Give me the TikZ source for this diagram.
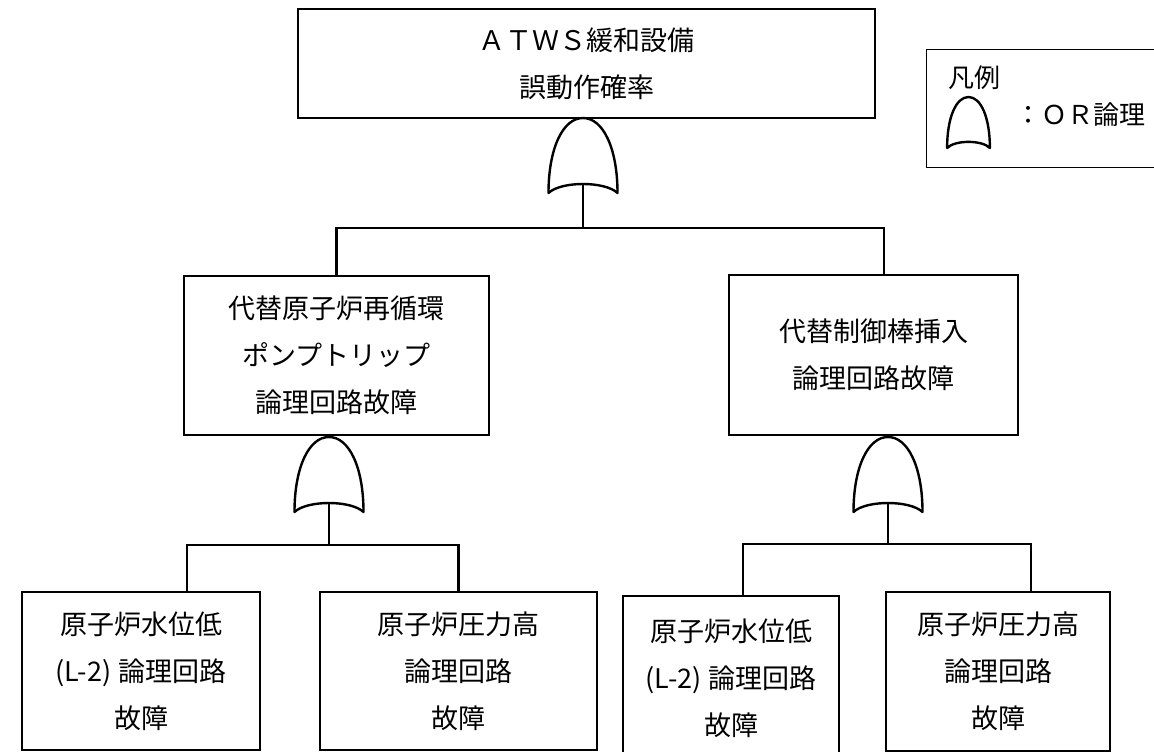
\documentclass[tikz,border=0pt]{standalone}
\usepackage{fontspec}
\setmainfont{Noto Sans CJK JP}
\begin{document}
\begin{tikzpicture}[x=1pt,y=-1pt,
  box/.style={draw, line width=1.2pt, inner sep=0pt, align=center, font=\fontsize{27}{47}\selectfont},
  conn/.style={line width=2.2pt},
  gateline/.style={line width=2.4pt, line join=round},
  orgate/.pic={\draw[gateline] (-34.5,75) .. controls (-34.5,30) and (-20,0) .. (0,0) .. controls (20,0) and (34.5,30) .. (34.5,75) .. controls (22,63) and (-22,63) .. cycle; \coordinate (-out) at (0,66);}]
\useasboundingbox (0,0) rectangle (1154,752);
\clip (0,0) rectangle (1154,752);
% boxes
\node[box, minimum width=577, minimum height=109] (top) at (586.5,63.5) {ＡＴＷＳ緩和設備\\誤動作確率};
\node[box, minimum width=305, minimum height=159] (ml) at (336.5,355.5) {代替原子炉再循環\\ポンプトリップ\\論理回路故障};
\node[box, minimum width=289, minimum height=160] (mr) at (873.5,355) {代替制御棒挿入\\論理回路故障};
\node[box, minimum width=238, minimum height=158] (ll) at (141,671) {原子炉水位低\\(L-2)\hspace{0.25em}論理回路\\故障};
\node[box, minimum width=277, minimum height=158] (lr) at (458.5,671) {原子炉圧力高\\論理回路\\故障};
\node[box, minimum width=216, minimum height=164] (rl) at (731,678) {原子炉水位低\\(L-2)\hspace{0.25em}論理回路\\故障};
\node[box, minimum width=224, minimum height=159] (rr) at (998,671.5) {原子炉圧力高\\論理回路\\故障};
% gates
\pic (ga) at (583,118) {orgate};
\pic (gb) at (329,437) {orgate};
\pic (gc) at (888,437) {orgate};
% connectors
\coordinate (h1) at (884,228);
\draw[conn] (ml.north) |- (h1) -- (h1 |- mr.north);
\draw[conn] (ga-out) -- (ga-out |- h1);
\coordinate (h2l) at (187,545);
\coordinate (h2r) at (458.5,545);
\draw[conn] (h2l |- ll.north) -- (h2l) -- (h2r) -- (lr.north);
\draw[conn] (gb-out) -- (gb-out |- h2l);
\coordinate (h3l) at (743,544);
\coordinate (h3r) at (1031,544);
\draw[conn] (h3l |- rl.north) -- (h3l) -- (h3r) -- (h3r |- rr.north);
\draw[conn] (gc-out) -- (gc-out |- h3l);
% legend
\node[draw, line width=1.2pt, minimum width=260, minimum height=118, anchor=north west, inner sep=0pt] (leg) at (926,49) {};
\node[font=\fontsize{26}{30}\selectfont, inner sep=0pt] (legt) at (974,78) {凡例};
\pic[xscale=0.62, yscale=0.68] (gl) at (968.5,97) {orgate};
\node[anchor=west, font=\fontsize{26}{30}\selectfont, inner sep=0pt] (legor) at (1015,115) {：ＯＲ論理};
\end{tikzpicture}
\end{document}
